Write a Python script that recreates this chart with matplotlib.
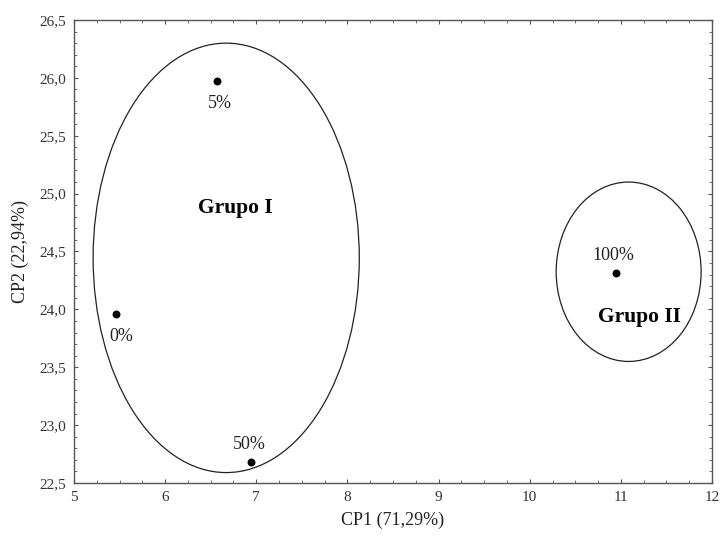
import matplotlib.pyplot as plt
from matplotlib.patches import Ellipse
from matplotlib.ticker import MultipleLocator

plt.rcParams["font.family"] = ["Liberation Serif", "DejaVu Serif"]

# data
labels = ["0%", "5%", "50%", "100%"]
cp1 = [5.46, 6.57, 6.94, 10.95]
cp2 = [23.96, 25.97, 22.68, 24.31]

# groups: center x, center y, width, height
groups = ["Grupo I", "Grupo II"]
grp_cx = [6.67, 11.085]
grp_cy = [24.445, 24.325]
grp_w = [2.92, 1.59]
grp_h = [3.71, 1.55]
grp_tx = [6.77, 11.2]
grp_ty = [24.88, 23.93]

xticks = [5, 6, 7, 8, 9, 10, 11, 12]
yticks = [22.5, 23.0, 23.5, 24.0, 24.5, 25.0, 25.5, 26.0, 26.5]

fig = plt.figure(figsize=(7.21, 5.36), dpi=100)
ax = fig.add_axes([0.1026, 0.0989, 0.885, 0.8638])

ax.scatter(cp1, cp2, s=22, color="black", zorder=3)

# label offsets (points): below for 0% and 5%, above for 50% and 100%
offsets = [(4, -16), (2, -16), (-1, 13), (-2, 13)]
for lab, x, y, off in zip(labels, cp1, cp2, offsets):
    ax.annotate(lab, (x, y), xytext=off, textcoords="offset points",
                ha="center", va="center", fontsize=13, color="#222222")

for i in range(len(groups)):
    e = Ellipse((grp_cx[i], grp_cy[i]), grp_w[i], grp_h[i],
                fill=False, edgecolor="#222222", linewidth=0.9)
    ax.add_patch(e)
    ax.text(grp_tx[i], grp_ty[i], groups[i], ha="center", va="center",
            fontsize=15.5, fontweight="bold")

ax.set_xlim(5, 12)
ax.set_ylim(22.5, 26.5)
ax.set_xticks(xticks)
ax.set_xticklabels([str(t) for t in xticks])
ax.set_yticks(yticks)
ax.set_yticklabels([f"{t:.1f}".replace(".", ",") for t in yticks])
ax.xaxis.set_minor_locator(MultipleLocator(0.25))
ax.yaxis.set_minor_locator(MultipleLocator(0.1))
ax.tick_params(which="both", direction="in", top=True, right=True,
               color="#555555", labelsize=11, labelcolor="#333333")
ax.tick_params(which="major", length=3, pad=6)
ax.tick_params(which="minor", length=2)
for sp in ax.spines.values():
    sp.set_color("#555555")
    sp.set_linewidth(1.0)

ax.set_xlabel("CP1 (71,29%)", fontsize=13, color="#222222", labelpad=5)
ax.set_ylabel("CP2 (22,94%)", fontsize=13, color="#222222", labelpad=7)

fig.savefig("out.png", dpi=100)
